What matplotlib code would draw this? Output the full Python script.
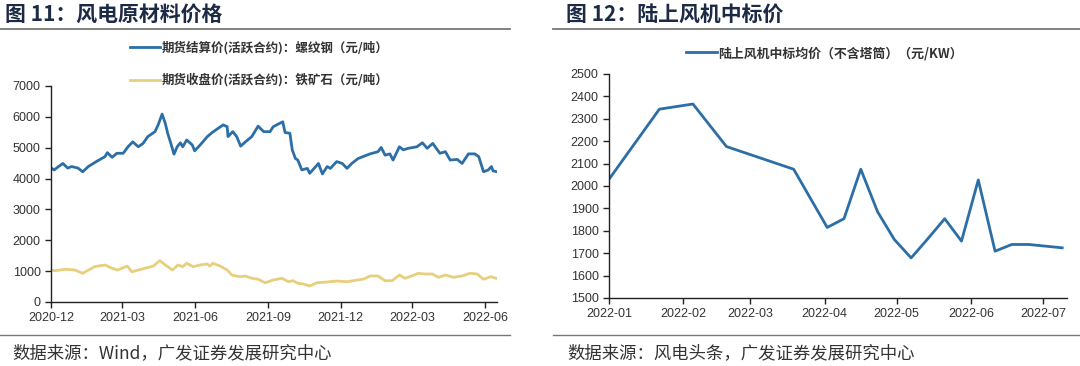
import numpy as np
import pandas as pd
import matplotlib
matplotlib.use("Agg")
import matplotlib.pyplot as plt
import matplotlib.dates as mdates
from matplotlib.lines import Line2D

plt.rcParams['font.family'] = ['Liberation Sans', 'Noto Sans CJK SC', 'DejaVu Sans']
cjk = ['Noto Sans CJK SC', 'DejaVu Sans']

# left chart: rebar settlement price (yuan/t)
rebar_dates = ['2020-12-02', '2020-12-05', '2020-12-10', '2020-12-16', '2020-12-22', '2020-12-27',
               '2021-01-04', '2021-01-10', '2021-01-17', '2021-01-29', '2021-02-07', '2021-02-10',
               '2021-02-16', '2021-02-22', '2021-03-02', '2021-03-08', '2021-03-14', '2021-03-21',
               '2021-03-27', '2021-04-02', '2021-04-11', '2021-04-15', '2021-04-20', '2021-04-24',
               '2021-04-27', '2021-05-01', '2021-05-05', '2021-05-09', '2021-05-13', '2021-05-16',
               '2021-05-21', '2021-05-28', '2021-05-31', '2021-06-07', '2021-06-16', '2021-06-22',
               '2021-06-28', '2021-07-06', '2021-07-11', '2021-07-12', '2021-07-18', '2021-07-23',
               '2021-07-28', '2021-08-03', '2021-08-11', '2021-08-19', '2021-08-26', '2021-09-03',
               '2021-09-07', '2021-09-19', '2021-09-22', '2021-09-28', '2021-10-01', '2021-10-05',
               '2021-10-08', '2021-10-13', '2021-10-20', '2021-10-23', '2021-11-03', '2021-11-08',
               '2021-11-14', '2021-11-18', '2021-11-26', '2021-12-03', '2021-12-09', '2021-12-15',
               '2021-12-23', '2021-12-29', '2022-01-07', '2022-01-17', '2022-01-21', '2022-01-26',
               '2022-02-01', '2022-02-05', '2022-02-13', '2022-02-18', '2022-02-24', '2022-03-07',
               '2022-03-14', '2022-03-20', '2022-03-27', '2022-04-05', '2022-04-12', '2022-04-18',
               '2022-04-27', '2022-05-03', '2022-05-11', '2022-05-19', '2022-05-24', '2022-05-30',
               '2022-06-05', '2022-06-09', '2022-06-11', '2022-06-16']
rebar_vals = [4330, 4280, 4380, 4490, 4340, 4390,
              4340, 4220, 4390, 4580, 4710, 4840,
              4690, 4820, 4820, 5030, 5190, 5030,
              5140, 5360, 5520, 5740, 6090, 5790,
              5470, 5140, 4790, 5030, 5160, 5030,
              5250, 5090, 4900, 5090, 5360, 5490,
              5600, 5740, 5680, 5360, 5520, 5360,
              5050, 5190, 5360, 5700, 5520, 5520,
              5680, 5840, 5490, 5470, 4930, 4650,
              4600, 4280, 4330, 4170, 4490, 4150,
              4390, 4330, 4550, 4490, 4330, 4490,
              4650, 4710, 4800, 4870, 5010, 4760,
              4800, 4600, 5030, 4930, 4980, 5030,
              5160, 4980, 5140, 4820, 4870, 4600,
              4620, 4490, 4800, 4800, 4710, 4220,
              4280, 4390, 4250, 4220]

# left chart: iron ore close price (yuan/t)
ore_dates = ['2020-12-01', '2020-12-06', '2020-12-19', '2020-12-31', '2021-01-10', '2021-01-25',
             '2021-02-07', '2021-02-16', '2021-02-23', '2021-03-07', '2021-03-13', '2021-03-29',
             '2021-04-09', '2021-04-17', '2021-04-24', '2021-05-03', '2021-05-10', '2021-05-16',
             '2021-05-21', '2021-05-29', '2021-06-07', '2021-06-16', '2021-06-19', '2021-06-23',
             '2021-07-02', '2021-07-11', '2021-07-17', '2021-07-27', '2021-08-03', '2021-08-11',
             '2021-08-19', '2021-08-25', '2021-08-28', '2021-09-07', '2021-09-18', '2021-09-26',
             '2021-10-02', '2021-10-08', '2021-10-15', '2021-10-23', '2021-11-01', '2021-11-14',
             '2021-11-26', '2021-12-09', '2021-12-22', '2021-12-29', '2022-01-07', '2022-01-17',
             '2022-01-26', '2022-02-04', '2022-02-13', '2022-02-20', '2022-02-26', '2022-03-09',
             '2022-03-17', '2022-03-27', '2022-04-03', '2022-04-12', '2022-04-22', '2022-05-03',
             '2022-05-13', '2022-05-22', '2022-05-30', '2022-06-08', '2022-06-16']
ore_vals = [1037, 1015, 1060, 1037, 930, 1145,
            1200, 1090, 1037, 1165, 980, 1090,
            1165, 1340, 1200, 1037, 1200, 1145,
            1255, 1145, 1200, 1230, 1165, 1255,
            1165, 1037, 875, 820, 843, 768,
            736, 658, 625, 713, 768, 658,
            690, 606, 583, 518, 625, 648,
            680, 658, 713, 736, 843, 843,
            690, 690, 875, 768, 820, 930,
            907, 907, 800, 875, 800, 843,
            930, 907, 736, 820, 760]

# right chart: onshore wind turbine average bid price (yuan/KW)
bid_dates = ['2022-01-01', '2022-01-22', '2022-02-05', '2022-02-19', '2022-03-19', '2022-04-02',
             '2022-04-09', '2022-04-16', '2022-04-23', '2022-04-30', '2022-05-07', '2022-05-14',
             '2022-05-21', '2022-05-28', '2022-06-04', '2022-06-11', '2022-06-18', '2022-06-25',
             '2022-07-09']
bid_vals = [2030, 2343, 2366, 2176, 2075, 1815,
            1854, 2075, 1885, 1761, 1679, 1765,
            1854, 1754, 2027, 1709, 1739, 1739,
            1724]

blue = '#2c6ea6'
gold = '#e8cf7c'
title_col = '#1c2a45'
text_col = '#333333'

fig = plt.figure(figsize=(10.8, 3.66), dpi=100)

def style_axes(ax):
    for s in ['top', 'right']:
        ax.spines[s].set_visible(False)
    for s in ['left', 'bottom']:
        ax.spines[s].set_color('#222222')
        ax.spines[s].set_linewidth(1.0)
    ax.tick_params(direction='out', length=4, width=1, colors='#222222',
                   labelsize=9, labelcolor=text_col)

# ---- left chart
ax1 = fig.add_axes([51/1080, 1-302/366, 446/1080, 216/366])
ax1.plot(pd.to_datetime(rebar_dates), rebar_vals, color=blue, lw=2,
         label='期货结算价(活跃合约)：螺纹钢（元/吨）')
ax1.plot(pd.to_datetime(ore_dates), ore_vals, color=gold, lw=2,
         label='期货收盘价(活跃合约)：铁矿石（元/吨）')
ax1.set_ylim(0, 7000)
ax1.set_yticks(np.arange(0, 7001, 1000))
ax1.set_xlim(pd.Timestamp('2020-12-01'), pd.Timestamp('2022-06-16'))
ax1.xaxis.set_major_locator(mdates.MonthLocator(bymonth=[3, 6, 9, 12]))
ax1.xaxis.set_major_formatter(mdates.DateFormatter('%Y-%m'))
style_axes(ax1)
leg1 = fig.legend(*ax1.get_legend_handles_labels(), loc='center',
                  bbox_to_anchor=(259/1080, 1-64/366), frameon=False,
                  handlelength=2.4, handletextpad=0.1, labelspacing=1.5,
                  prop={'family': cjk, 'size': 9, 'weight': 'bold'})
for t in leg1.get_texts():
    t.set_color(text_col)

# ---- right chart
ax2 = fig.add_axes([609/1080, 1-298/366, 458/1080, 224/366])
ax2.plot(pd.to_datetime(bid_dates), bid_vals, color=blue, lw=2,
         label='陆上风机中标均价（不含塔筒）（元/KW）')
ax2.set_ylim(1500, 2500)
ax2.set_yticks(np.arange(1500, 2501, 100))
ax2.set_xlim(pd.Timestamp('2022-01-01'), pd.Timestamp('2022-07-11'))
ax2.xaxis.set_major_locator(mdates.MonthLocator())
ax2.xaxis.set_major_formatter(mdates.DateFormatter('%Y-%m'))
style_axes(ax2)
leg2 = fig.legend(*ax2.get_legend_handles_labels(), loc='center',
                  bbox_to_anchor=(824/1080, 1-53/366), frameon=False,
                  handlelength=2.4, handletextpad=0.1,
                  prop={'family': cjk, 'size': 9.3, 'weight': 'bold'})
for t in leg2.get_texts():
    t.set_color(text_col)

# ---- titles, rules and sources
fig.text(5/1080, 1-14/366, '图 11：风电原材料价格', family=cjk, fontsize=15,
         weight='bold', color=title_col, va='center', ha='left')
fig.text(566/1080, 1-14/366, '图 12：陆上风机中标价', family=cjk, fontsize=15,
         weight='bold', color=title_col, va='center', ha='left')
for x0, x1 in [(0, 510), (553, 1080)]:
    fig.add_artist(Line2D([x0/1080, x1/1080], [1-29/366, 1-29/366],
                          color='#777777', lw=1.3, transform=fig.transFigure))
    fig.add_artist(Line2D([x0/1080, x1/1080], [1-335/366, 1-335/366],
                          color='#777777', lw=1.0, transform=fig.transFigure))
fig.text(12/1080, 1-353/366, '数据来源：Wind，广发证券发展研究中心', family=cjk,
         fontsize=12.5, color=text_col, va='center', ha='left')
fig.text(567/1080, 1-353/366, '数据来源：风电头条，广发证券发展研究中心', family=cjk,
         fontsize=12.5, color=text_col, va='center', ha='left')

fig.savefig('out.png', dpi=100)
